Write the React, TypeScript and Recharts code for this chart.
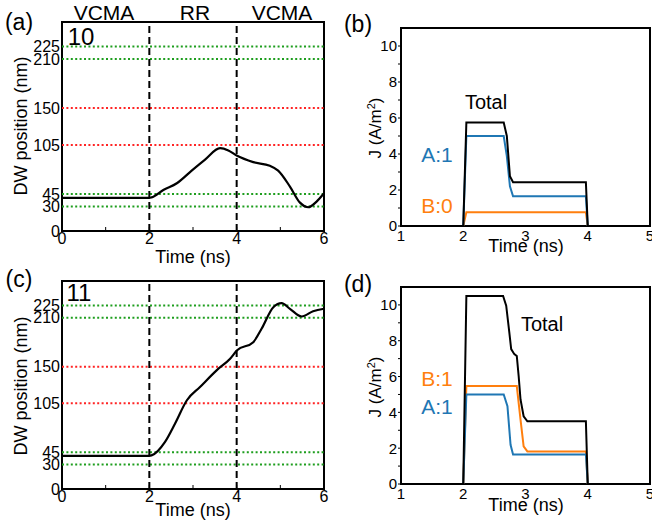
import { LineChart, Line, XAxis, YAxis, ReferenceLine, ReferenceArea } from 'recharts';

const FONT = '"Liberation Sans", Arial, sans-serif';

// tick labels and reference levels
const posTicks = [0, 30, 45, 105, 150, 210, 225];
const timeTicksLeft = [0, 1, 2, 3, 4, 5, 6];
const timeTicksRight = [1, 2, 3, 4, 5];
const jTicks = [0, 1, 2, 3, 4, 5, 6, 7, 8, 9, 10];
const greenLevels = [30, 45, 210, 225];
const redLevels = [105, 150];
const phaseBounds = [2, 4];
const phaseLabels = ['VCMA', 'RR', 'VCMA'];

// (a) DW position, case 10
const timeA = [0, 2.0, 2.05, 2.32, 2.63, 2.97, 3.27, 3.62, 3.81, 4.01, 4.38, 4.76, 4.95, 5.22, 5.45, 5.64, 5.83, 6.0];
const posA = [40.5, 40.5, 41, 50, 58.3, 73.7, 86.8, 101, 98.2, 91.7, 84, 79.5, 73.7, 54.2, 34.6, 29, 35.9, 46];

// (c) DW position, case 11
const timeC = [0, 2.0, 2.05, 2.36, 2.59, 2.86, 3.16, 3.54, 3.85, 4.01, 4.38, 4.57, 4.84, 5.03, 5.22, 5.49, 5.75, 6.0];
const posC = [40.7, 40.7, 41.2, 57.8, 80.3, 108.8, 125, 145.5, 159.7, 170, 180, 196.4, 222.9, 227.8, 220.9, 211.5, 218, 221];

// (b) current density, A:1 B:0
const timeTotalB = [1, 2.0, 2.05, 2.65, 2.7, 2.75, 2.8, 3.97, 4.0, 5];
const totalB = [0, 0, 5.75, 5.75, 5.0, 2.76, 2.43, 2.43, 0, 0];
const timeAB = [1, 2.0, 2.05, 2.65, 2.7, 2.75, 2.8, 3.97, 4.0, 5];
const aB = [0, 0, 5.0, 5.0, 3.88, 2.2, 1.65, 1.65, 0, 0];
const timeBB = [1, 2.0, 2.05, 3.97, 4.0, 5];
const bB = [0, 0, 0.76, 0.76, 0, 0];

// (d) current density, A:1 B:1
const timeTotalD = [1, 2.0, 2.05, 2.64, 2.69, 2.74, 2.77, 2.82, 2.86, 2.89, 2.92, 2.97, 3.03, 3.97, 4.0, 5];
const totalD = [0, 0, 10.5, 10.5, 9.96, 8.46, 7.53, 7.25, 7.15, 6.03, 4.72, 3.78, 3.5, 3.5, 0, 0];
const timeAD = [1, 2.0, 2.05, 2.65, 2.71, 2.76, 2.8, 3.97, 4.0, 5];
const aD = [0, 0, 5.0, 5.0, 4.34, 2.19, 1.65, 1.65, 0, 0];
const timeBD = [1, 2.0, 2.05, 2.86, 2.92, 2.97, 3.03, 3.97, 4.0, 5];
const bD = [0, 0, 5.47, 5.47, 3.6, 2.1, 1.82, 1.82, 0, 0];

const zip = (ts: number[], vs: number[]) => ts.map((t, i) => ({ t, v: vs[i] }));

const BLUE = '#1f77b4';
const ORANGE = '#ff7f0e';
const GREEN = '#1e9e1e';
const RED = '#ff2424';

const tickStyle = (size: number) => ({ fill: '#000', fontSize: size, fontFamily: FONT });

function DwPanel({ data, top, height, xAxisHeight }: { data: { t: number; v: number }[]; top: number; height: number; xAxisHeight: number }) {
    return (
        <LineChart width={330} height={height} data={data} margin={{ top, right: 6, left: 0, bottom: 0 }}>
            <XAxis
                dataKey="t"
                type="number"
                domain={[0, 6]}
                ticks={timeTicksLeft}
                interval={0}
                tickFormatter={(v: number) => (v % 2 === 0 ? String(v) : '')}
                tickSize={-4}
                tickMargin={6}
                axisLine={false}
                tickLine={{ stroke: '#000', strokeWidth: 1 }}
                height={xAxisHeight}
                tick={tickStyle(16)}
            />
            <YAxis
                type="number"
                domain={[0, 255]}
                allowDataOverflow
                ticks={posTicks}
                interval={0}
                width={62}
                tickSize={0}
                tickMargin={2}
                axisLine={false}
                tickLine={false}
                tick={tickStyle(16)}
            />
            {greenLevels.map((y) => (
                <ReferenceLine key={`g${y}`} y={y} stroke={GREEN} strokeWidth={2} strokeDasharray="2 2.4" />
            ))}
            {redLevels.map((y) => (
                <ReferenceLine key={`r${y}`} y={y} stroke={RED} strokeWidth={2} strokeDasharray="2 2.4" />
            ))}
            {phaseBounds.map((x) => (
                <ReferenceLine key={`x${x}`} x={x} stroke="#000" strokeWidth={2} strokeDasharray="7 4" />
            ))}
            <Line dataKey="v" type="monotone" stroke="#000" strokeWidth={2.2} dot={false} isAnimationActive={false} />
            <ReferenceArea x1={0} x2={6} y1={0} y2={255} fill="none" stroke="#000" strokeWidth={2} ifOverflow="visible" />
        </LineChart>
    );
}

type Pt = { t: number; v: number };

function CurrentPanel({ total, a, b, top, height, xAxisHeight }: { total: Pt[]; a: Pt[]; b: Pt[]; top: number; height: number; xAxisHeight: number }) {
    return (
        <LineChart width={322} height={height} margin={{ top, right: 2, left: 0, bottom: 0 }}>
            <XAxis
                dataKey="t"
                type="number"
                domain={[1, 5]}
                ticks={timeTicksRight}
                interval={0}
                tickSize={0}
                tickMargin={4}
                axisLine={false}
                tickLine={false}
                height={xAxisHeight}
                tick={tickStyle(15)}
                allowDuplicatedCategory={false}
            />
            <YAxis
                type="number"
                domain={[0, 11]}
                allowDataOverflow
                ticks={jTicks}
                interval={0}
                width={71}
                tickFormatter={(v: number) => (v % 2 === 0 ? String(v) : '')}
                tickSize={3}
                tickMargin={1}
                axisLine={false}
                tickLine={{ stroke: '#000', strokeWidth: 1 }}
                tick={tickStyle(15)}
            />
            <Line data={b} dataKey="v" type="linear" stroke={ORANGE} strokeWidth={2} dot={false} isAnimationActive={false} />
            <Line data={a} dataKey="v" type="linear" stroke={BLUE} strokeWidth={2} dot={false} isAnimationActive={false} />
            <Line data={total} dataKey="v" type="linear" stroke="#000" strokeWidth={2} dot={false} isAnimationActive={false} />
            <ReferenceArea x1={1} x2={5} y1={0} y2={11} fill="none" stroke="#000" strokeWidth={2} ifOverflow="visible" />
        </LineChart>
    );
}

function Txt({ x, y, size, color = '#000', rotate = false, children }: { x: number; y: number; size: number; color?: string; rotate?: boolean; children: React.ReactNode }) {
    return (
        <div
            style={{
                position: 'absolute',
                left: x,
                top: y,
                fontSize: size,
                lineHeight: 1,
                color,
                fontFamily: FONT,
                whiteSpace: 'nowrap',
                transform: `translate(-50%, -50%)${rotate ? ' rotate(-90deg)' : ''}`,
            }}
        >
            {children}
        </div>
    );
}

const phaseX = [104, 195, 282];

export default function App() {
    return (
        <div style={{ position: 'absolute', left: 0, top: 0, width: 652, height: 531, background: '#fff', overflow: 'hidden' }}>
            <div style={{ position: 'absolute', left: 0, top: 0 }}>
                <DwPanel data={zip(timeA, posA)} top={22} height={260} xAxisHeight={29} />
            </div>
            <div style={{ position: 'absolute', left: 0, top: 260 }}>
                <DwPanel data={zip(timeC, posC)} top={21} height={271} xAxisHeight={42} />
            </div>
            <div style={{ position: 'absolute', left: 330, top: 0 }}>
                <CurrentPanel total={zip(timeTotalB, totalB)} a={zip(timeAB, aB)} b={zip(timeBB, bB)} top={28} height={260} xAxisHeight={34} />
            </div>
            <div style={{ position: 'absolute', left: 330, top: 260 }}>
                <CurrentPanel total={zip(timeTotalD, totalD)} a={zip(timeAD, aD)} b={zip(timeBD, bD)} top={27} height={271} xAxisHeight={47} />
            </div>

            {/* panel letters */}
            <Txt x={19} y={22} size={23}>(a)</Txt>
            <Txt x={358} y={24} size={23}>(b)</Txt>
            <Txt x={19} y={279} size={23}>(c)</Txt>
            <Txt x={358} y={284} size={23}>(d)</Txt>

            {/* phase labels */}
            {phaseLabels.map((p, i) => (
                <Txt key={i} x={phaseX[i]} y={12} size={21}>{p}</Txt>
            ))}

            {/* case numbers */}
            <Txt x={81} y={37} size={24}>10</Txt>
            <Txt x={79} y={293} size={24}>11</Txt>

            {/* axis titles */}
            <Txt x={21} y={126} size={18} rotate>DW position (nm)</Txt>
            <Txt x={21} y={386} size={18} rotate>DW position (nm)</Txt>
            <Txt x={193} y={257} size={18}>Time (ns)</Txt>
            <Txt x={193} y={510} size={18}>Time (ns)</Txt>
            <Txt x={526} y={246} size={18}>Time (ns)</Txt>
            <Txt x={526} y={505} size={18}>Time (ns)</Txt>
            <Txt x={375} y={128} size={17} rotate>J (A/m<sup style={{ fontSize: 11 }}>2</sup>)</Txt>
            <Txt x={375} y={387} size={17} rotate>J (A/m<sup style={{ fontSize: 11 }}>2</sup>)</Txt>

            {/* series annotations */}
            <Txt x={486} y={102} size={20}>Total</Txt>
            <Txt x={437} y={154} size={21} color={BLUE}>A:1</Txt>
            <Txt x={437} y={205} size={21} color={ORANGE}>B:0</Txt>
            <Txt x={542} y={324} size={20}>Total</Txt>
            <Txt x={437} y={378} size={21} color={ORANGE}>B:1</Txt>
            <Txt x={437} y={406} size={21} color={BLUE}>A:1</Txt>
        </div>
    );
}
